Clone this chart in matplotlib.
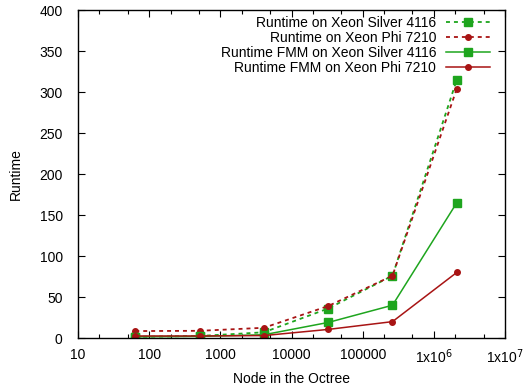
import math
import matplotlib
matplotlib.use("Agg")
import matplotlib.pyplot as plt
from matplotlib.ticker import LogLocator, FuncFormatter, NullFormatter, MultipleLocator

nodes = [64, 512, 4096, 32768, 262144, 2097152]
rt_silver = [1.5, 2.5, 7, 36, 76, 315]
rt_phi = [8.5, 8.8, 12.5, 39, 76, 304]
fmm_silver = [1.5, 2.0, 4, 19, 40, 165]
fmm_phi = [2.5, 2.5, 3, 10.5, 20, 80]
labels = ["Runtime on Xeon Silver 4116", "Runtime on Xeon Phi 7210",
          "Runtime FMM on Xeon Silver 4116", "Runtime FMM on Xeon Phi 7210"]

plt.rcParams['font.family'] = ['Liberation Sans', 'DejaVu Sans']
green = '#1ea51e'
red = '#a81414'

fig = plt.figure(figsize=(5.3, 3.85), dpi=100)
ax = fig.add_axes([0.147, 0.122, 0.806, 0.852])

ax.plot(nodes, rt_silver, color=green, ls=(0, (2.2, 2.2)), lw=1.3, marker='s', ms=5.5, label=labels[0])
ax.plot(nodes, rt_phi, color=red, ls=(0, (2.2, 2.2)), lw=1.3, marker='o', ms=4, label=labels[1])
ax.plot(nodes, fmm_silver, color=green, lw=1.1, marker='s', ms=5.5, label=labels[2])
ax.plot(nodes, fmm_phi, color=red, lw=1.1, marker='o', ms=4, label=labels[3])

ax.set_xscale('log')
ax.set_xlim(10, 1e7)
ax.set_ylim(0, 400)
ax.yaxis.set_major_locator(MultipleLocator(50))

def fmt(v, pos):
    if v >= 1e6:
        return r'1x10$^{%d}$' % round(math.log10(v))
    return '%d' % v

ax.xaxis.set_major_locator(LogLocator(base=10, numticks=20))
ax.xaxis.set_major_formatter(FuncFormatter(fmt))
ax.xaxis.set_minor_locator(LogLocator(base=10, subs=(2, 5), numticks=20))
ax.xaxis.set_minor_formatter(NullFormatter())

ax.tick_params(which='both', direction='in', top=True, right=True, labelsize=10)
ax.tick_params(axis='x', pad=7)
ax.tick_params(axis='y', pad=11)
ax.tick_params(which='major', length=5, width=0.8)
ax.tick_params(which='minor', length=3, width=0.8)
for s in ax.spines.values():
    s.set_linewidth(1.0)

ax.set_xlabel('Node in the Octree', fontsize=10, labelpad=4)
ax.set_ylabel('Runtime', fontsize=10, labelpad=12)

ax.legend(loc='upper right', bbox_to_anchor=(0.988, 1.012), frameon=False, markerfirst=False,
          fontsize=10, handlelength=3.2, labelspacing=0.07, borderaxespad=0.3, handletextpad=0.7)

fig.savefig('out.png', dpi=100)
